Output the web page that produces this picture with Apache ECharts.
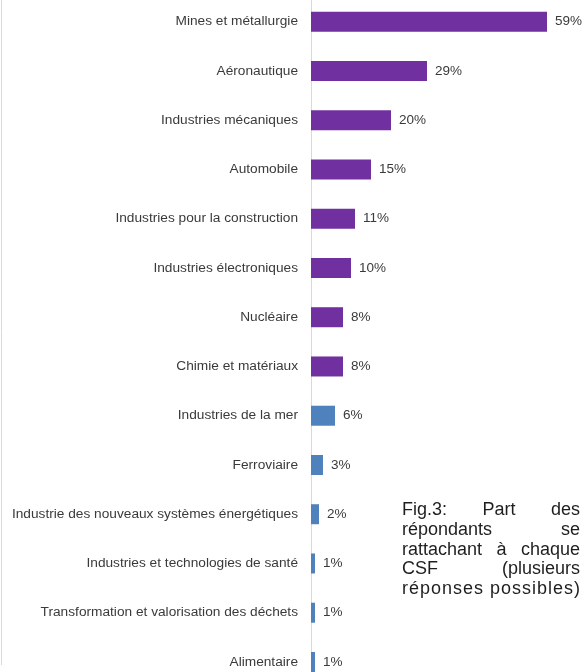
<!DOCTYPE html>
<html>
<head>
<meta charset="utf-8">
<script src="https://cdn.jsdelivr.net/npm/echarts@6/dist/echarts.min.js"></script>
<style>
html,body{margin:0;padding:0;background:#fff;}
#chart{width:585px;height:672px;}
</style>
</head>
<body>
<div id="chart"></div>
<script>
const categories = [
  "Mines et métallurgie",
  "Aéronautique",
  "Industries mécaniques",
  "Automobile",
  "Industries pour la construction",
  "Industries électroniques",
  "Nucléaire",
  "Chimie et matériaux",
  "Industries de la mer",
  "Ferroviaire",
  "Industrie des nouveaux systèmes énergétiques",
  "Industries et technologies de santé",
  "Transformation et valorisation des déchets",
  "Alimentaire"
];
const values = [59, 29, 20, 15, 11, 10, 8, 8, 6, 3, 2, 1, 1, 1];
const captionLines = [
  ["Fig.3:", "Part", "des"],
  ["répondants", "se"],
  ["rattachant", "à", "chaque"],
  ["CSF", "(plusieurs"],
  ["réponses", "possibles)"]
];

const FONT = '"Liberation Sans", Arial, sans-serif';
const PURPLE = '#7030A0';
const BLUE = '#4F81BD';

// justified caption built from word widths
const capFontSize = 18;
const capLeft = 402, capRight = 580, capTop = 510, capPitch = 19.8;
const ctx = document.createElement('canvas').getContext('2d');
ctx.font = capFontSize + 'px ' + FONT;
const graphics = [{
  type: 'line',
  shape: {x1: 1.5, y1: 0, x2: 1.5, y2: 665},
  style: {stroke: '#d9d9d9', lineWidth: 1}
}];
function addText(t, x, y) {
  graphics.push({
    type: 'text',
    x: x,
    y: y,
    style: {
      text: t,
      font: capFontSize + 'px ' + FONT,
      fill: '#1e1e1e',
      textAlign: 'left',
      textVerticalAlign: 'middle'
    }
  });
}
captionLines.forEach(function (words, li) {
  const y = capTop + li * capPitch;
  const isLast = li === captionLines.length - 1;
  if (isLast) {
    // last line: normal word space, remaining width spread between letters
    const str = words.join(' ');
    const chars = str.split('');
    const cw = chars.map(function (c) { return ctx.measureText(c).width; });
    const tot = cw.reduce(function (a, b) { return a + b; }, 0);
    const extra = (capRight - capLeft - tot) / (chars.length - 1);
    let x = capLeft;
    chars.forEach(function (c, i) {
      if (c !== ' ') addText(c, x, y);
      x += cw[i] + extra;
    });
    return;
  }
  const widths = words.map(function (w) { return ctx.measureText(w).width; });
  const total = widths.reduce(function (a, b) { return a + b; }, 0);
  const gap = words.length > 1 ? (capRight - capLeft - total) / (words.length - 1) : 0;
  let x = capLeft;
  words.forEach(function (w, wi) {
    addText(w, x, y);
    x += widths[wi] + gap;
  });
});

const chart = echarts.init(document.getElementById('chart'), null, {renderer: 'canvas'});
chart.setOption({
  animation: false,
  backgroundColor: '#ffffff',
  grid: {
    left: 311,
    right: 0,
    top: -2.9,
    bottom: -14.6,
    containLabel: false,
    outerBoundsMode: 'none'
  },
  xAxis: {
    type: 'value',
    min: 0,
    max: 68.5,
    show: false,
    splitLine: {show: false}
  },
  yAxis: {
    type: 'category',
    data: categories,
    inverse: true,
    axisLine: {show: true, lineStyle: {color: '#d9d9d9', width: 1}},
    axisTick: {show: false},
    axisLabel: {
      margin: 13,
      fontSize: 13.7,
      fontFamily: FONT,
      color: '#3a3a3a'
    }
  },
  series: [{
    type: 'bar',
    data: values,
    barWidth: 20,
    itemStyle: {
      color: function (p) { return p.dataIndex < 8 ? PURPLE : BLUE; }
    },
    label: {
      show: true,
      position: 'right',
      distance: 8,
      formatter: '{c}%',
      fontSize: 13.5,
      fontFamily: FONT,
      color: '#3a3a3a'
    }
  }],
  graphic: graphics
});
</script>
</body>
</html>
